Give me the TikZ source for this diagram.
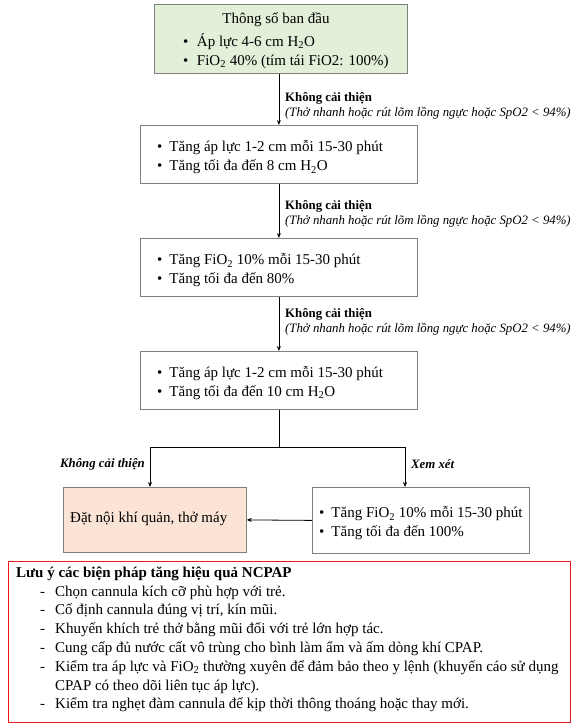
\documentclass[tikz,border=0pt]{standalone}
\usepackage{fontspec}
\setmainfont{Liberation Serif}
\usetikzlibrary{arrows.meta}
\definecolor{boxgray}{RGB}{128,128,128}
\definecolor{greenfill}{RGB}{226,239,217}
\definecolor{peachfill}{RGB}{251,228,213}
\definecolor{notered}{RGB}{235,25,25}
\newcommand{\bul}{\textbullet\hspace{7pt}}
\newcommand{\ndash}{\makebox[39pt][l]{\hspace*{24pt}-}}
\begin{document}
\begin{tikzpicture}[x=1pt,y=-1pt,
  frame/.style={draw=boxgray, line width=0.8pt, anchor=north west, inner sep=0pt},
  body/.style={font=\fontsize{15}{19}\selectfont, align=left, inner sep=0pt},
  lbl/.style={font=\fontsize{12.8}{15}\selectfont, align=left, inner sep=0pt, anchor=west},
  lblb/.style={font=\fontsize{12.8}{15}\selectfont\bfseries\itshape, inner sep=0pt},
  conn/.style={line width=0.8pt, -{Stealth[length=5pt,width=4pt]}},
  plain/.style={line width=0.8pt}]
\useasboundingbox (0,0) rectangle (575,728);
% boxes
\node[frame, fill=greenfill, minimum width=253pt, minimum height=69pt] (b1) at (154,4) {};
\node[frame, minimum width=277pt, minimum height=58pt] (b2) at (140,125) {};
\node[frame, minimum width=277pt, minimum height=58pt] (b3) at (140,238) {};
\node[frame, minimum width=277pt, minimum height=58pt] (b4) at (140,351) {};
\node[frame, fill=peachfill, minimum width=183pt, minimum height=65pt] (b5) at (63,487) {};
\node[frame, minimum width=217pt, minimum height=66pt] (b6) at (312,487) {};
\node[draw=notered, line width=1.2pt, anchor=north west, inner sep=0pt, minimum width=562pt, minimum height=161pt] (note) at (8,561) {};
% box texts
\node[body, anchor=center] (t1a) at (276,20) {Thông số ban đầu};
\node[body, anchor=west] (t1b) at (183,51) {\textbullet\hspace{8.5pt}Áp lực 4-6 cm H\textsubscript{2}O\\\textbullet\hspace{8.5pt}FiO\textsubscript{2} 40\% (tím tái FiO2: 100\%)};
\node[body, anchor=west] (t2) at (157,157.5) {\bul Tăng áp lực 1-2 cm mỗi 15-30 phút\\\bul Tăng tối đa đến 8 cm H\textsubscript{2}O};
\node[body, anchor=west] (t3) at (157,270.5) {\bul Tăng FiO\textsubscript{2} 10\% mỗi 15-30 phút\\\bul Tăng tối đa đến 80\%};
\node[body, anchor=west] (t4) at (157,383) {\bul Tăng áp lực 1-2 cm mỗi 15-30 phút\\\bul Tăng tối đa đến 10 cm H\textsubscript{2}O};
\node[body, anchor=west] (t5) at (70,519) {Đặt nội khí quản, thở máy};
\node[body, anchor=west] (t6) at (319,523.5) {\bul Tăng FiO\textsubscript{2} 10\% mỗi 15-30 phút\\\bul Tăng tối đa đến 100\%};
% vertical connectors
\draw[conn] (b1.south -| b2.north) -- (b2.north);
\draw[conn] (b2.south) -- (b3.north);
\draw[conn] (b3.south) -- (b4.north);
\node[lbl] (l1) at (285,106) {\textbf{Không cải thiện}\\\textit{(Thở nhanh hoặc rút lõm lồng ngực hoặc SpO2 < 94\%)}};
\node[lbl] (l2) at (285,214) {\textbf{Không cải thiện}\\\textit{(Thở nhanh hoặc rút lõm lồng ngực hoặc SpO2 < 94\%)}};
\node[lbl] (l3) at (285,322) {\textbf{Không cải thiện}\\\textit{(Thở nhanh hoặc rút lõm lồng ngực hoặc SpO2 < 94\%)}};
% branch
\coordinate (j) at (b4.south |- 0,447);
\coordinate (jl) at (150,447);
\coordinate (jr) at (405,447);
\draw[plain] (b4.south) -- (j);
\draw[conn] (j) -- (jl) -- (jl |- b5.north);
\draw[conn] (j) -- (jr) -- (jr |- b6.north);
\draw[conn] (b6.west) -- (b5.east);
\node[lblb, anchor=east] (l4) at (145,464) {Không cải thiện};
\node[lblb, anchor=west] (l5) at (411,464) {Xem xét};
% note text
\node[body, anchor=north west, font=\fontsize{15}{18.8}\selectfont] (nt) at (16,566.5) {\textbf{Lưu ý các biện pháp tăng hiệu quả NCPAP}\\
\ndash Chọn cannula kích cỡ phù hợp với trẻ.\\
\ndash Cố định cannula đúng vị trí, kín mũi.\\
\ndash Khuyến khích trẻ thở bằng mũi đối với trẻ lớn hợp tác.\\
\ndash Cung cấp đủ nước cất vô trùng cho bình làm ẩm và ấm dòng khí CPAP.\\
\ndash Kiểm tra áp lực và FiO\textsubscript{2} thường xuyên để đảm bảo theo y lệnh (khuyến cáo sử dụng\\
\hspace*{39pt}CPAP có theo dõi liên tục áp lực).\\
\ndash Kiểm tra nghẹt đàm cannula để kịp thời thông thoáng hoặc thay mới.};
\end{tikzpicture}
\end{document}
